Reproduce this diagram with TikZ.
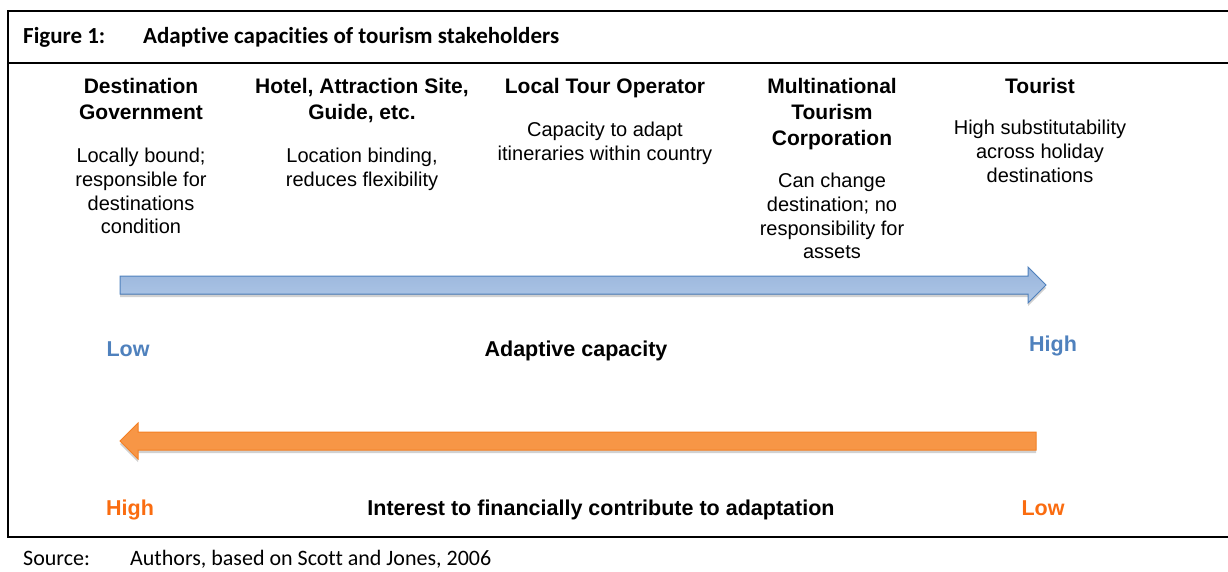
\documentclass[tikz,border=0pt]{standalone}
\usepackage{fontspec}
\setmainfont{Liberation Sans}
\newfontfamily\figfont[Ligatures=NoCommon]{Carlito}
\usetikzlibrary{shadows}
\definecolor{capblue}{RGB}{79,129,189}
\definecolor{capbluetop}{RGB}{153,181,219}
\definecolor{capbluebot}{RGB}{174,199,231}
\definecolor{intorange}{RGB}{247,150,70}
\definecolor{intorangedark}{RGB}{244,128,36}
\definecolor{labelorange}{RGB}{250,108,16}
\tikzset{
  stakeholder/.style={anchor=north, align=center, inner sep=0pt, font=\fontsize{21}{26}\selectfont\bfseries},
  traits/.style={anchor=north, align=center, inner sep=0pt, font=\fontsize{20}{23.7}\selectfont},
  scalelabel/.style={anchor=base, inner sep=0pt, font=\fontsize{21.5}{25}\selectfont\bfseries},
  captext/.style={anchor=base west, inner sep=0pt, font=\figfont\fontsize{22}{26}\selectfont},
  framerule/.style={line width=2pt},
  blockarrow/.style={line width=1pt, drop shadow={shadow xshift=0pt, shadow yshift=-3pt, fill=black!18, opacity=1}},
}

\begin{document}
\begin{tikzpicture}[x=1pt, y=-1pt]
\useasboundingbox (0,0) rectangle (1228,571);
\draw[framerule] (1228,11) -- (8,11) -- (8,537) -- (1228,537);
\draw[framerule] (8,63) -- (1228,63);
\node[captext, font=\figfont\fontsize{23}{27}\selectfont\bfseries] (figno) at (23,43) {Figure 1:};
\node[captext, font=\figfont\fontsize{23}{27}\selectfont\bfseries] (figtitle) at (143,43) {Adaptive capacities of tourism stakeholders};

\node[stakeholder] (govt) at (141,78) {Destination\\Government};
\node[traits] (govttxt) at (141,148) {Locally bound;\\responsible for\\destinations\\condition};
\node[stakeholder] (hotel) at (362,78) {Hotel, Attraction Site,\\Guide, etc.};
\node[traits] (hoteltxt) at (362,148) {Location binding,\\reduces flexibility};
\node[stakeholder] (tourop) at (605,78) {Local Tour Operator};
\node[traits] (touroptxt) at (605,122) {Capacity to adapt\\itineraries within country};
\node[stakeholder] (corp) at (832,78) {Multinational\\Tourism\\Corporation};
\node[traits] (corptxt) at (832,173) {Can change\\destination; no\\responsibility for\\assets};
\node[stakeholder] (tourist) at (1040,78) {Tourist};
\node[traits] (touristtxt) at (1040,120) {High substitutability\\across holiday\\destinations};

\filldraw[blockarrow, draw=capblue, top color=capbluetop, bottom color=capbluebot]
  (120,276) -- (1028,276) -- (1028,267) -- (1046,285) -- (1028,303) -- (1028,294) -- (120,294) -- cycle;
\node[scalelabel, text=capblue] (caplow) at (128,356) {Low};
\node[scalelabel] (captitle) at (576,356) {Adaptive capacity};
\node[scalelabel, text=capblue] (caphigh) at (1053,351) {High};

\filldraw[blockarrow, draw=intorangedark, fill=intorange]
  (1036,432) -- (138,432) -- (138,423) -- (120,441) -- (138,459) -- (138,450) -- (1036,450) -- cycle;
\node[scalelabel, text=labelorange] (inthigh) at (130,515) {High};
\node[scalelabel] (inttitle) at (601,515) {Interest to financially contribute to adaptation};
\node[scalelabel, text=labelorange] (intlow) at (1043,515) {Low};

\node[captext] (srclabel) at (23,565) {Source:};
\node[captext] (srctext) at (130,565) {Authors, based on Scott and Jones, 2006};
\end{tikzpicture}
\end{document}
